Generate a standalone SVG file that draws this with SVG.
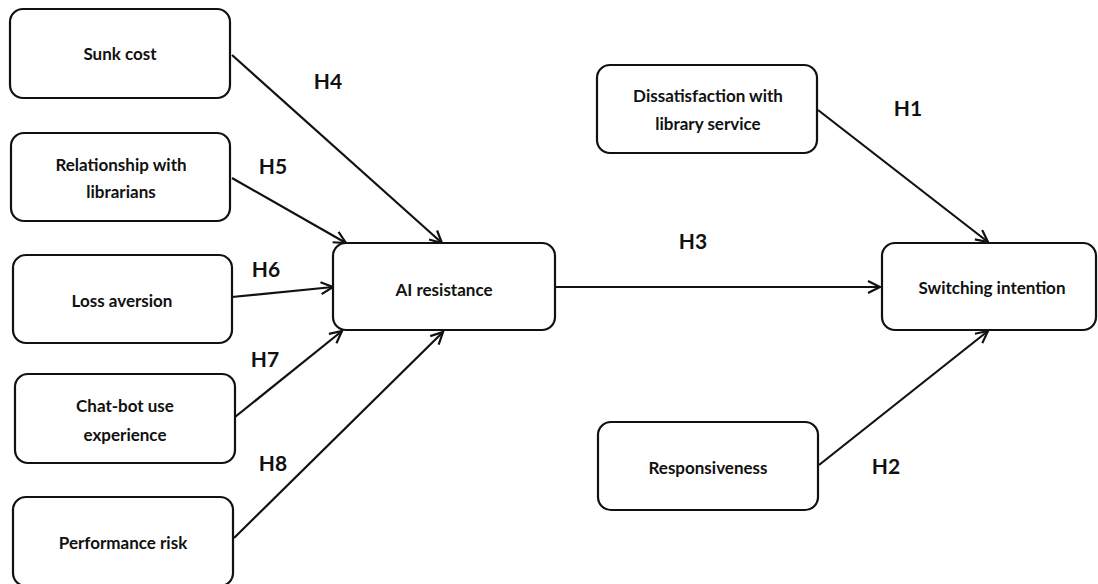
<svg xmlns="http://www.w3.org/2000/svg" width="1098" height="584" viewBox="0 0 1098 584">
<defs>
<style>
.box{fill:#fff;stroke:#111;stroke-width:2.2}
.t{font-family:Lato,"Liberation Sans",sans-serif;font-weight:bold;font-size:17px;fill:#111;text-anchor:middle;dominant-baseline:central}
.h{font-family:Lato,"Liberation Sans",sans-serif;font-weight:bold;font-size:21px;fill:#111;text-anchor:middle;dominant-baseline:central}
.c{stroke:#111;stroke-width:2.2;fill:none;marker-end:url(#ah)}
</style>
<marker id="ah" markerUnits="userSpaceOnUse" markerWidth="20" markerHeight="20" refX="13" refY="7" orient="auto">
<path d="M1,1 L13,7 L1,13" fill="none" stroke="#111" stroke-width="2.2"/>
</marker>
</defs>
<rect width="1098" height="584" fill="#fff"/>
<g id="connectors">
<line class="c" x1="232" y1="55" x2="442" y2="243"/>
<line class="c" x1="232" y1="178" x2="346" y2="243"/>
<line class="c" x1="232" y1="297" x2="333" y2="287"/>
<line class="c" x1="235" y1="417" x2="342" y2="331"/>
<line class="c" x1="234" y1="538" x2="443" y2="332"/>
<line class="c" x1="555" y1="287" x2="880" y2="287"/>
<line class="c" x1="818" y1="110" x2="988" y2="242"/>
<line class="c" x1="819" y1="465" x2="988" y2="331"/>
<text class="h" x="328" y="80">H4</text>
<text class="h" x="273" y="165">H5</text>
<text class="h" x="266" y="268">H6</text>
<text class="h" x="265" y="358">H7</text>
<text class="h" x="273" y="462">H8</text>
<text class="h" x="693" y="240">H3</text>
<text class="h" x="908" y="107">H1</text>
<text class="h" x="886" y="465">H2</text>
</g>
<g id="sunk-cost">
<rect class="box" x="10" y="9" width="220" height="89" rx="13"/>
<text class="t" x="120" y="53">Sunk cost</text>
</g>
<g id="relationship">
<rect class="box" x="11" y="133" width="219" height="88" rx="13"/>
<text class="t" x="121" y="164">Relationship with</text>
<text class="t" x="121" y="191">librarians</text>
</g>
<g id="loss-aversion">
<rect class="box" x="13" y="255" width="219" height="88" rx="13"/>
<text class="t" x="122" y="300">Loss aversion</text>
</g>
<g id="chatbot">
<rect class="box" x="15" y="374" width="220" height="89" rx="13"/>
<text class="t" x="125" y="405">Chat-bot use</text>
<text class="t" x="125" y="434">experience</text>
</g>
<g id="performance-risk">
<rect class="box" x="13" y="497" width="220" height="89" rx="13"/>
<text class="t" x="123" y="542">Performance risk</text>
</g>
<g id="ai-resistance">
<rect class="box" x="333" y="243" width="222" height="87" rx="13"/>
<text class="t" x="444" y="289">AI resistance</text>
</g>
<g id="dissatisfaction">
<rect class="box" x="597" y="65" width="220" height="88" rx="13"/>
<text class="t" x="708" y="95">Dissatisfaction with</text>
<text class="t" x="708" y="123">library service</text>
</g>
<g id="switching-intention">
<rect class="box" x="882" y="243" width="214" height="87" rx="13"/>
<text class="t" x="992" y="287">Switching intention</text>
</g>
<g id="responsiveness">
<rect class="box" x="598" y="422" width="220" height="88" rx="13"/>
<text class="t" x="708" y="467">Responsiveness</text>
</g>
</svg>
